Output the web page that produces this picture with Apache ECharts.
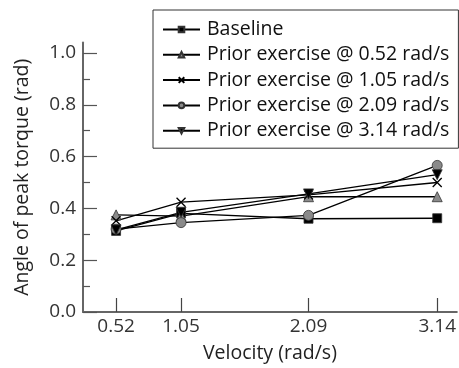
<!DOCTYPE html>
<html>
<head>
<meta charset="utf-8">
<script src="https://cdn.jsdelivr.net/npm/echarts@6/dist/echarts.min.js"></script>
<style>
  html, body { margin: 0; padding: 0; background: #fff; }
  #chart { width: 459px; height: 368px; }
</style>
</head>
<body>
<div id="chart"></div>
<script>
// velocities (rad/s) on x axis
const velocity = [0.52, 1.05, 2.09, 3.14];
const seriesNames = [
  'Baseline',
  'Prior exercise @ 0.52 rad/s',
  'Prior exercise @ 1.05 rad/s',
  'Prior exercise @ 2.09 rad/s',
  'Prior exercise @ 3.14 rad/s'
];
// angle of peak torque (rad)
const baseline = [0.313, 0.381, 0.36, 0.362];
const prior052 = [0.375, 0.37, 0.445, 0.445];
const prior105 = [0.352, 0.424, 0.452, 0.50];
const prior209 = [0.32, 0.345, 0.373, 0.566];
const prior314 = [0.317, 0.385, 0.456, 0.53];
const yLabels = [0, 0.2, 0.4, 0.6, 0.8, 1.0];
const yMinor = [0.1, 0.3, 0.5, 0.7, 0.9];

const font = 'Open Sans';
const crossPath = 'path://M0,0L10,10M10,0L0,10';

function pairs(vals) {
  return velocity.map((v, i) => [v, vals[i]]);
}

function mkSeries(name, vals, symbol, fill, extra) {
  return Object.assign({
    name: name,
    type: 'line',
    data: pairs(vals),
    symbol: symbol,
    symbolSize: 9,
    lineStyle: { color: '#000', width: 1.3 },
    itemStyle: { color: fill, borderColor: '#333', borderWidth: 0.8 },
    emphasis: { disabled: true },
    z: 3
  }, extra || {});
}

const chart = echarts.init(document.getElementById('chart'), null, { renderer: 'canvas' });

chart.setOption({
  animation: false,
  textStyle: { fontFamily: font },
  grid: { left: 83, right: 0, top: 42.6, bottom: 56 },
  legend: {
    orient: 'vertical',
    left: 153,
    top: 10,
    padding: [9, 9, 7, 9],
    itemWidth: 37,
    itemHeight: 7,
    itemGap: 4.3,
    backgroundColor: '#fff',
    borderColor: '#333',
    borderWidth: 1,
    selectedMode: false,
    textStyle: { fontFamily: font, fontSize: 19.5, lineHeight: 21, color: '#111', padding: [0, 0, 0, 2] },
    data: seriesNames
  },
  xAxis: {
    type: 'value',
    min: 0.25,
    max: 3.3,
    name: 'Velocity (rad/s)',
    nameLocation: 'middle',
    nameGap: 31,
    nameTextStyle: { fontFamily: font, fontSize: 19.5, color: '#222' },
    splitLine: { show: false },
    axisLine: { lineStyle: { color: '#666', width: 2 } },
    axisTick: { inside: true, length: 14, customValues: velocity, lineStyle: { color: '#444', width: 1.2 } },
    axisLabel: { customValues: velocity, fontSize: 19, color: '#333', margin: 5,
      formatter: v => v.toFixed(2) }
  },
  yAxis: [
    {
      type: 'value',
      min: 0,
      max: 1.04,
      name: 'Angle of peak torque (rad)',
      nameLocation: 'middle',
      nameGap: 51,
      nameTextStyle: { fontFamily: font, fontSize: 19.5, color: '#222' },
      splitLine: { show: false },
      axisLine: { lineStyle: { color: '#666', width: 2 } },
      axisTick: { inside: true, length: 14, customValues: yLabels, lineStyle: { color: '#555', width: 1.2 } },
      axisLabel: { customValues: yLabels, fontSize: 19, color: '#333', margin: 7,
        formatter: v => v.toFixed(1) }
    },
    {
      type: 'value',
      min: 0,
      max: 1.04,
      position: 'left',
      splitLine: { show: false },
      axisLine: { show: false },
      axisTick: { show: true, inside: true, length: 7, customValues: yMinor, lineStyle: { color: '#555', width: 1.2 } },
      axisLabel: { show: false, customValues: yMinor }
    }
  ],
  series: [
    mkSeries(seriesNames[0], baseline, 'rect', '#000', { symbolSize: 9 }),
    mkSeries(seriesNames[1], prior052, 'triangle', '#8a8a8a', { symbolSize: 10 }),
    mkSeries(seriesNames[2], prior105, crossPath, 'none', {
      symbolSize: 9,
      itemStyle: { color: 'none', borderColor: '#000', borderWidth: 1.3 }
    }),
    mkSeries(seriesNames[3], prior209, 'circle', '#8a8a8a', { symbolSize: 10 }),
    mkSeries(seriesNames[4], prior314, 'triangle', '#000', { symbolSize: 10, symbolRotate: 180 })
  ]
});
</script>
</body>
</html>
